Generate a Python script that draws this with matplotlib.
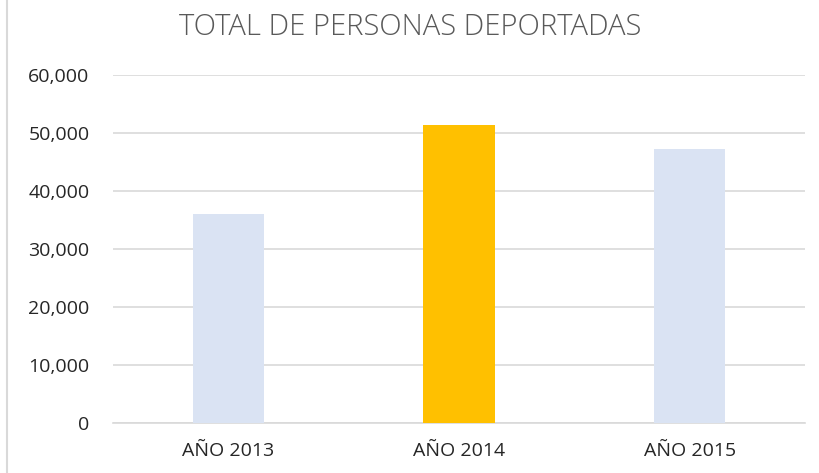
import matplotlib.pyplot as plt
from matplotlib.ticker import FuncFormatter
from matplotlib.lines import Line2D

categories = ['AÑO 2013', 'AÑO 2014', 'AÑO 2015']
deportados = [36000, 51300, 47200]
bar_colors = ['#DAE3F3', '#FFC000', '#DAE3F3']
yticks = [0, 10000, 20000, 30000, 40000, 50000, 60000]

plt.rcParams['font.family'] = ['Open Sans', 'DejaVu Sans']

fig = plt.figure(figsize=(8.2, 4.73), dpi=100)
ax = fig.add_axes([0.1378, 0.1057, 0.9817 - 0.1378, 0.8414 - 0.1057])

x = range(len(categories))
ax.bar(x, deportados, width=0.31, color=bar_colors, zorder=3)

ax.set_xlim(-0.5, 2.5)
ax.set_ylim(0, 60000)
ax.set_yticks(yticks)
ax.yaxis.set_major_formatter(FuncFormatter(lambda v, p: f'{int(v):,}'))
ax.set_xticks(list(x))
ax.set_xticklabels(categories)

ax.grid(axis='y', color='#D9D9D9', linewidth=1.2, zorder=0)
for s in ['top', 'right', 'left']:
    ax.spines[s].set_visible(False)
ax.spines['bottom'].set_color('#D9D9D9')
ax.spines['bottom'].set_linewidth(1.2)

ax.tick_params(axis='both', length=0, labelsize=14, colors='#262626')
ax.tick_params(axis='y', pad=17)
ax.tick_params(axis='x', pad=14)

fig.text(0.5, 0.943, 'TOTAL DE PERSONAS DEPORTADAS', ha='center', va='center',
         fontsize=21, color='#595959', fontweight='light')

# left border line of the original chart frame
fig.add_artist(Line2D([0.0085, 0.0085], [0.0, 1.0], transform=fig.transFigure,
                      color='#D9D9D9', linewidth=1.5))

fig.savefig('out.png', dpi=100)
